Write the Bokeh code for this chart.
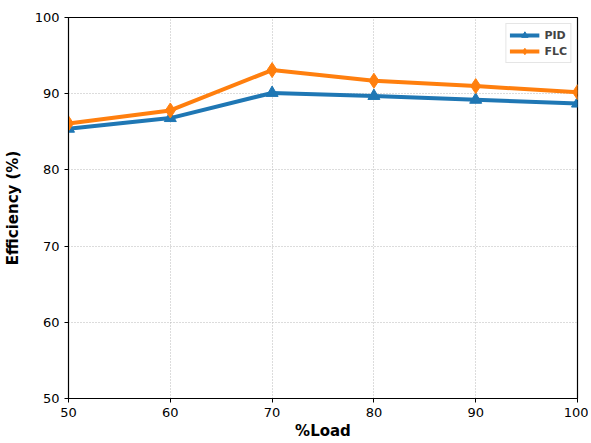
from bokeh.plotting import figure
from bokeh.embed import file_html
from bokeh.resources import INLINE
from bokeh.models import Range1d, FixedTicker

load = [50, 60, 70, 80, 90, 100]
pid = [85.4, 86.8, 90.1, 89.7, 89.2, 88.7]
flc = [86.1, 87.8, 93.1, 91.7, 91.0, 90.2]
xticks = [50, 60, 70, 80, 90, 100]
yticks = [50, 60, 70, 80, 90, 100]

p = figure(width=588, height=442, output_backend="svg", toolbar_location=None,
           x_range=Range1d(50, 100), y_range=Range1d(50, 100),
           min_border_left=67, min_border_top=17, min_border_right=11, min_border_bottom=44)
p.outline_line_color = "black"
p.outline_line_width = 1.2

p.line(load, pid, line_width=4, color="#1f77b4", legend_label="PID")
p.scatter(load, pid, marker="triangle", size=12, color="#1f77b4", legend_label="PID")
p.line(load, flc, line_width=4, color="#ff7f0e", legend_label="FLC")
p.scatter(load, flc, marker="diamond", size=15, color="#ff7f0e", legend_label="FLC")

for ax in (p.xaxis[0], p.yaxis[0]):
    ax.major_label_text_font = "DejaVu Sans"
    ax.major_label_text_font_size = "13px"
    ax.major_label_text_color = "black"
    ax.axis_label_text_font = "DejaVu Sans"
    ax.axis_label_text_font_size = "15px"
    ax.axis_label_text_font_style = "bold"
    ax.axis_label_text_color = "black"
    ax.minor_tick_line_color = None
    ax.major_tick_out = 4
    ax.major_tick_in = 0
    ax.axis_line_color = "black"
    ax.major_tick_line_color = "black"

p.xaxis.ticker = FixedTicker(ticks=xticks)
p.yaxis.ticker = FixedTicker(ticks=yticks)
p.xaxis.axis_label = "%Load"
p.yaxis.axis_label = "Efficiency (%)"
p.xaxis.axis_label_standoff = 2
p.yaxis.axis_label_standoff = 10

p.grid.grid_line_color = "#b8b8b8"
p.grid.grid_line_dash = "1 2"
p.grid.grid_line_width = 1

p.legend.location = "top_right"
p.legend.label_text_font = "DejaVu Sans"
p.legend.label_text_font_style = "bold"
p.legend.label_text_font_size = "11px"
p.legend.border_line_color = "#cccccc"
p.legend.border_line_width = 1
p.legend.padding = 3
p.legend.spacing = 0
p.legend.margin = 6
p.legend.glyph_width = 30
p.legend.glyph_height = 16
p.legend.label_height = 16
p.legend.background_fill_alpha = 0.9

open("out.html", "w").write(file_html(p, INLINE))
